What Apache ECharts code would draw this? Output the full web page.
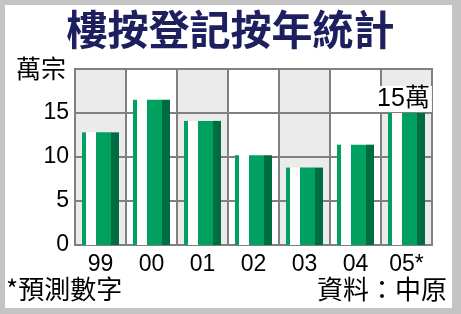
<!DOCTYPE html>
<html>
<head>
<meta charset="utf-8">
<script src="https://cdn.jsdelivr.net/npm/echarts@6/dist/echarts.min.js"></script>
<style>
html,body{margin:0;padding:0;background:#c4c4c4;}
#c{width:461px;height:314px;}
</style>
</head>
<body>
<div id="c"></div>
<script>
var categories = ['99', '00', '01', '02', '03', '04', '05*'];
var values = [12.8, 16.5, 14.1, 10.2, 8.8, 11.4, 15.0];
var pointLabels = ['', '', '', '', '', '', '15萬'];
var yTicks = [0, 5, 10, 15, 20];

var chart = echarts.init(document.getElementById('c'), null, {renderer: 'canvas'});

function renderBar(params, api) {
  var idx = params.dataIndex;
  var v = api.value(1);
  var top = api.coord([idx, v]);
  var base = api.coord([idx, 0]);
  var cx = top[0];
  var h = base[1] - top[1];
  var parts = [
    {x0: -18.5, x1: -14.5, color: '#00a060'},
    {x0: -14.5, x1: -4.5, color: '#ffffff'},
    {x0: -4.5, x1: 10.5, color: '#00a060'},
    {x0: 10.5, x1: 18.5, color: '#006c42'}
  ];
  var children = parts.map(function (p) {
    return {
      type: 'rect',
      shape: {x: cx + p.x0, y: top[1], width: p.x1 - p.x0, height: h},
      style: {fill: p.color}
    };
  });
  var lbl = pointLabels[idx];
  if (lbl) {
    children.push({
      type: 'text',
      z2: 10,
      style: {
        text: lbl,
        x: cx - 3,
        y: top[1] - 1,
        align: 'center',
        verticalAlign: 'bottom',
        fontSize: 25,
        fontFamily: 'Liberation Sans, Noto Sans CJK TC, sans-serif',
        fill: '#000',
        backgroundColor: '#ffffff',
        padding: [1, 2, 0, 2]
      }
    });
  }
  return {type: 'group', children: children};
}

var option = {
  animation: false,
  graphic: [
    {type: 'rect', z: -10, shape: {x: 5, y: 5, width: 447, height: 303}, style: {fill: '#ffffff'}},
    {type: 'text', left: 'center', top: 9, style: {
      text: '樓按登記按年統計', fontSize: 41, fontWeight: 'bold',
      fontFamily: 'Noto Sans CJK TC', fill: '#1d1f5e'
    }, x: -4},
    {type: 'text', left: 16, top: 56, style: {
      text: '萬宗', fontSize: 25, fontFamily: 'Noto Sans CJK TC', fill: '#000'
    }},
    {type: 'text', left: 6, top: 276, style: {
      text: '*預測數字', fontSize: 26, fontFamily: 'Noto Sans CJK TC', fill: '#000'
    }},
    {type: 'text', right: 14, top: 276, style: {
      text: '資料：中原', fontSize: 26, fontFamily: 'Noto Sans CJK TC', fill: '#000'
    }}
  ],
  grid: {
    left: 75, right: 29, top: 69, bottom: 69,
    show: true, borderColor: '#808080', borderWidth: 2
  },
  xAxis: {
    type: 'category',
    z: 0,
    data: categories,
    axisLine: {show: false},
    axisTick: {show: false},
    axisLabel: {
      fontSize: 23, color: '#000', margin: 8,
      fontFamily: 'Liberation Sans, Arial, sans-serif'
    },
    splitLine: {show: true, interval: 0, lineStyle: {color: '#808080', width: 2}},
    splitArea: {show: true, interval: 0, areaStyle: {color: ['#ebebeb', '#ffffff']}}
  },
  yAxis: {
    type: 'value',
    z: 1,
    min: 0, max: 20, interval: 5,
    axisLine: {show: false},
    axisTick: {show: false},
    axisLabel: {
      fontSize: 23, color: '#000', margin: 6,
      fontFamily: 'Liberation Sans, Arial, sans-serif',
      formatter: function (v) { return v === 20 ? '' : String(v); }
    },
    splitLine: {show: true, lineStyle: {color: '#808080', width: 2}}
  },
  series: [{
    type: 'custom',
    z: 2,
    renderItem: renderBar,
    data: values.map(function (v, i) { return [i, v]; }),
    encode: {x: 0, y: 1}
  }]
};
chart.setOption(option);
</script>
</body>
</html>
